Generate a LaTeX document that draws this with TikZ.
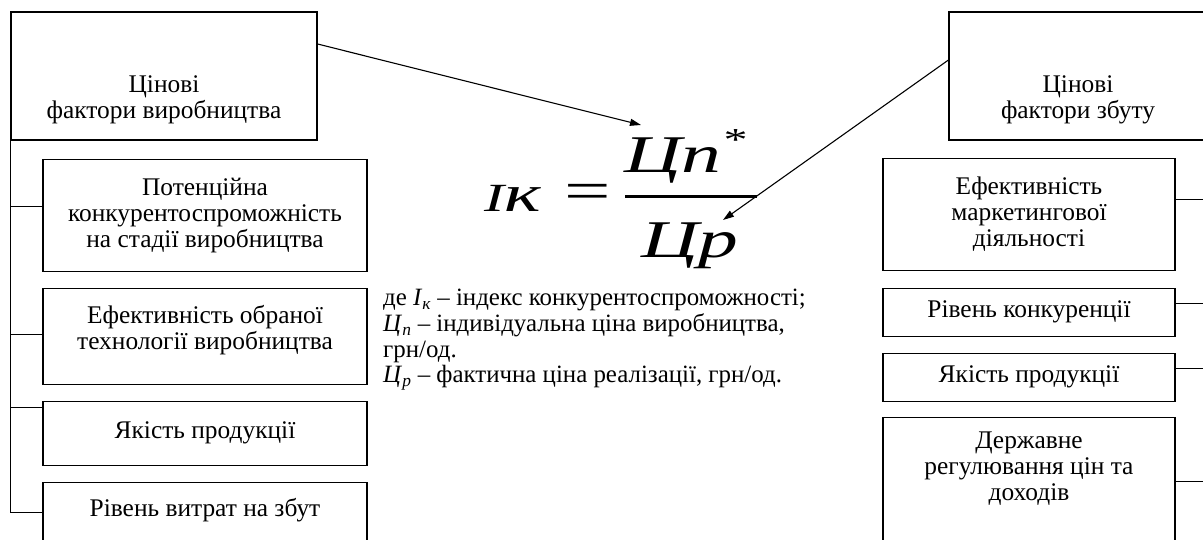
\documentclass[tikz,border=0pt]{standalone}
\usepackage{fontspec}
\setmainfont{Liberation Serif}
\usepackage{graphicx}
\usetikzlibrary{positioning,arrows.meta}

\newcommand{\lift}[1]{\rule{0pt}{#1}}
\newcommand{\sink}[1]{\rule[-#1]{0pt}{#1}}

\begin{document}
\begin{tikzpicture}[
  x=1pt, y=-1pt,
  font=\fontsize{25.4}{26}\selectfont,
  head/.style={draw, line width=1.1pt, align=center, minimum height=128pt, inner sep=4pt},
  item/.style={draw, line width=1.1pt, align=center, inner sep=4pt},
  link/.style={line width=1.1pt},
  pointer/.style={line width=1.1pt, -{Triangle[length=11pt,width=7pt]}},
  frm/.style={inner sep=0pt, font=\itshape},
]
  \useasboundingbox (0,0) rectangle (1203,540);
  \clip (0,0) rectangle (1203,540);

  % production side
  \node[head, minimum width=306pt] (ltop) at (164,76) {\lift{64pt}Цінові\\фактори виробництва};
  \node[item, minimum width=324pt, minimum height=112pt, below right=18pt and 32pt of ltop.south west] (l1)
    {Потенційна\\конкурентоспроможність\\на стадії виробництва};
  \node[item, minimum width=324pt, minimum height=96pt, below=16pt of l1] (l2)
    {Ефективність обраної\\технології виробництва\sink{18pt}};
  \node[item, minimum width=324pt, minimum height=64pt, below=16pt of l2] (l3) {Якість продукції};
  \node[item, minimum width=324pt, minimum height=68pt, below=16pt of l3] (l4) {Рівень витрат на збут\sink{18pt}};
  \foreach \n/\d in {l1/48,l2/47,l3/7,l4/31}
    \draw[link] ([yshift=-\d pt]\n.north west) -- ++(-32pt,0) coordinate (\n-tap);
  \draw[link] (ltop.south west) -- (l4-tap);

  % sales side
  \node[head, minimum width=258pt] (rtop) at (1078,76) {\lift{64pt}Цінові\\фактори збуту};
  \node[item, minimum width=292pt, minimum height=112pt, below left=17pt and 32pt of rtop.south east] (r1)
    {Ефективність\\маркетингової\\діяльності};
  \node[item, minimum width=292pt, minimum height=48pt, below=17pt of r1] (r2) {Рівень конкуренції};
  \node[item, minimum width=292pt, minimum height=48pt, below=16pt of r2] (r3) {Якість продукції};
  \node[item, minimum width=292pt, text depth=110pt, below=15pt of r3] (r4)
    {\lift{27pt}Державне\\регулювання цін та\\доходів};
  \foreach \n/\d in {r1/42,r2/16,r3/16,r4/65}
    \draw[link] ([yshift=-\d pt]\n.north east) -- ++(32pt,0) coordinate (\n-tap);
  \draw[link] (rtop.south east) -- (r4-tap);

  % index formula
  \node[frm, anchor=base west] (ik) at (484,212)
    {\scalebox{1.5}[1]{\fontsize{40}{40}\selectfont I\fontsize{52}{52}\selectfont к}};
  \node[frm, font=\upshape] (eq) at (588,197) {\scalebox{1.5}[1]{\fontsize{55}{55}\selectfont =}};
  \node[frm, anchor=base west] (num) at (624,173)
    {\scalebox{1.5}[1]{\fontsize{53}{53}\selectfont Цп\raisebox{22pt}{\fontsize{32}{32}\selectfont *}}};
  \node[frm, anchor=base west] (den) at (641,258) {\scalebox{1.5}[1]{\fontsize{53}{53}\selectfont Цр}};
  \coordinate (barl) at (625,197);
  \coordinate (barr) at (757,197);
  \draw[line width=3pt] (barl) -- (barr);

  \coordinate (numtip) at (641,125);
  \coordinate (dentip) at (723,220);
  \draw[pointer] ([yshift=32pt]ltop.east) -- (numtip);
  \draw[pointer] ([yshift=16pt]rtop.west) -- (dentip);

  \node[anchor=north west, align=left, inner sep=0pt, font=\fontsize{24.9}{25.7}\selectfont] (note) at (383,289)
    {де \textit{I}\textsubscript{\textit{к}} – індекс конкурентоспроможності;\\
     \textit{Ц}\textsubscript{\textit{п}} – індивідуальна ціна виробництва,\\
     грн/од.\\
     \textit{Ц}\textsubscript{\textit{р}} – фактична ціна реалізації, грн/од.};
\end{tikzpicture}
\end{document}
